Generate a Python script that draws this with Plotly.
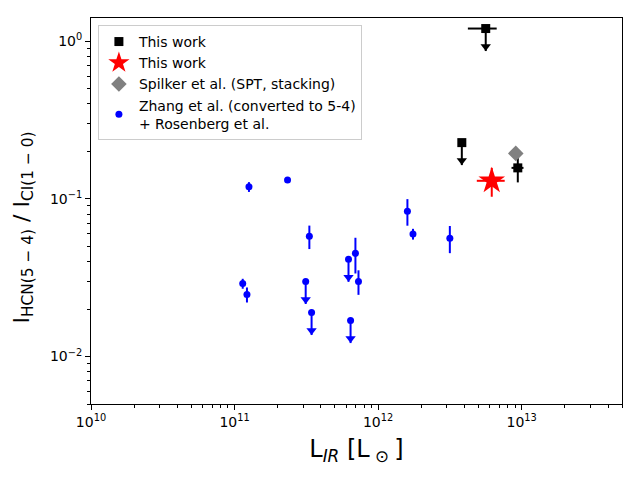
import plotly.graph_objects as go

# ---- data ----
# This work (black squares)
tw_L = [5.62e12, 3.83e12, 9.4e12]
tw_R = [1.20, 0.227, 0.157]
tw_L_lo = [1.40e12, 0.0, 0.9e12]
tw_L_hi = [1.08e12, 0.0, 0.9e12]
tw_R_err = [0.0, 0.0, 0.030]
tw_uplim = [True, True, False]

# This work (red star)
star_L = [6.19e12]
star_R = [0.130]
star_L_lo = [1.32e12]
star_L_hi = [1.43e12]
star_R_err = [0.027]

# Spilker et al. (grey diamond)
sp_L = [9.1e12]
sp_R = [0.194]

# Zhang et al. + Rosenberg et al. (blue)
zh_L = [1.26e11, 2.34e11, 3.32e11, 1.14e11, 1.22e11, 3.13e11, 3.44e11,
        6.22e11, 6.95e11, 7.3e11, 6.43e11, 1.6e12, 1.75e12, 3.16e12]
zh_R = [0.119, 0.1315, 0.0578, 0.029, 0.0247, 0.0299, 0.019,
        0.0413, 0.0451, 0.0299, 0.0169, 0.0835, 0.0598, 0.0562]
zh_err = [0.0085, 0.0, 0.0098, 0.0021, 0.0027, 0.0, 0.0,
          0.0, 0.0115, 0.0053, 0.0, 0.016, 0.0047, 0.011]
zh_uplim = [False, False, False, False, False, True, True,
            True, False, False, True, False, False, False]

legend_names = ["This work", "This work", "Spilker et al. (SPT, stacking)",
                "Zhang et al. (converted to 5-4)<br>+ Rosenberg et al."]

x_tickvals = [1e10, 1e11, 1e12, 1e13]
x_ticktext = ["10<sup>10</sup>", "10<sup>11</sup>", "10<sup>12</sup>", "10<sup>13</sup>"]
y_tickvals = [1e-2, 1e-1, 1e0]
y_ticktext = ["10<sup>−2</sup>", "10<sup>−1</sup>", "10<sup>0</sup>"]

x_title = "L<sub><i>IR</i></sub> [L<sub> ⊙ </sub>]"
y_title = "I<sub>HCN(5 − 4)</sub> / I<sub>CI(1 − 0)</sub>"

ARROW = 0.72   # arrow tip as a fraction of the limit value
HEAD = 0.77    # arrow head position as a fraction of the limit value

fig = go.Figure()


def add_group(L, R, Rerr, uplim, color, symbol, size, name, Llo=None, Lhi=None,
              showlegend=True):
    det = [i for i in range(len(L)) if not uplim[i]]
    ul = [i for i in range(len(L)) if uplim[i]]
    first = True
    for idx, is_ul in ((det, False), (ul, True)):
        if not idx:
            continue
        x = [L[i] for i in idx]
        y = [R[i] for i in idx]
        if is_ul:
            ey = dict(type="data", symmetric=False, array=[0] * len(idx),
                      arrayminus=[R[i] * (1 - ARROW) for i in idx],
                      color=color, thickness=2, width=0)
        else:
            ey = dict(type="data", array=[Rerr[i] for i in idx],
                      color=color, thickness=2, width=0)
        ex = None
        if Llo is not None:
            ex = dict(type="data", symmetric=False,
                      array=[Lhi[i] for i in idx],
                      arrayminus=[Llo[i] for i in idx],
                      color=color, thickness=2, width=0)
        fig.add_trace(go.Scatter(
            x=x, y=y, mode="markers", name=name,
            marker=dict(color=color, symbol=symbol, size=size, line=dict(width=0)),
            error_y=ey, error_x=ex,
            showlegend=showlegend and first, legendgroup=name))
        first = False
        if is_ul:
            fig.add_trace(go.Scatter(
                x=x, y=[R[i] * HEAD for i in idx], mode="markers",
                marker=dict(color=color, symbol="triangle-down", size=9,
                            line=dict(width=0)),
                showlegend=False, hoverinfo="skip", legendgroup=name))


add_group(tw_L, tw_R, tw_R_err, tw_uplim, "black", "square", 9,
          legend_names[0], tw_L_lo, tw_L_hi)

fig.add_trace(go.Scatter(
    x=star_L, y=star_R, mode="markers", name=legend_names[1],
    marker=dict(color="red", symbol="star", size=20, line=dict(width=0)),
    error_y=dict(type="data", array=star_R_err, color="red", thickness=2, width=0),
    error_x=dict(type="data", symmetric=False, array=star_L_hi,
                 arrayminus=star_L_lo, color="red", thickness=2, width=0)))

fig.add_trace(go.Scatter(
    x=sp_L, y=sp_R, mode="markers", name=legend_names[2],
    marker=dict(color="grey", symbol="diamond", size=12, line=dict(width=0))))

add_group(zh_L, zh_R, zh_err, zh_uplim, "blue", "circle", 7, legend_names[3])

axis_common = dict(
    type="log", showgrid=False, zeroline=False, showline=True,
    linecolor="black", linewidth=1, mirror=True, ticks="outside",
    ticklen=5, tickwidth=1, tickcolor="black", automargin=False,
    tickfont=dict(family="DejaVu Sans", size=14, color="black"),
    minor=dict(ticks="outside", ticklen=3, tickcolor="black", dtick="D1",
               showgrid=False),
)

fig.update_layout(
    width=640, height=480,
    margin=dict(l=83, r=26, t=10, b=84),
    paper_bgcolor="white", plot_bgcolor="white",
    font=dict(family="DejaVu Sans", color="black"),
    xaxis=dict(axis_common, range=[10, 13.699], tickmode="array",
               tickvals=x_tickvals, ticktext=x_ticktext,
               title=dict(text=x_title, font=dict(size=24), standoff=11)),
    yaxis=dict(axis_common, range=[-2.301, 0.146], tickmode="array",
               tickvals=y_tickvals, ticktext=y_ticktext),
    legend=dict(x=0.013, y=0.982, xanchor="left", yanchor="top",
                bgcolor="white", bordercolor="#cccccc", borderwidth=1,
                font=dict(family="DejaVu Sans", size=14, color="black"),
                itemsizing="trace", tracegroupgap=0),
    annotations=[dict(text=y_title, textangle=-90, xref="paper", yref="paper",
                      x=-0.127, y=0.456, xanchor="center", yanchor="middle",
                      showarrow=False, font=dict(size=22, color="black"))],
    showlegend=True,
)

fig.write_html("out.html")
